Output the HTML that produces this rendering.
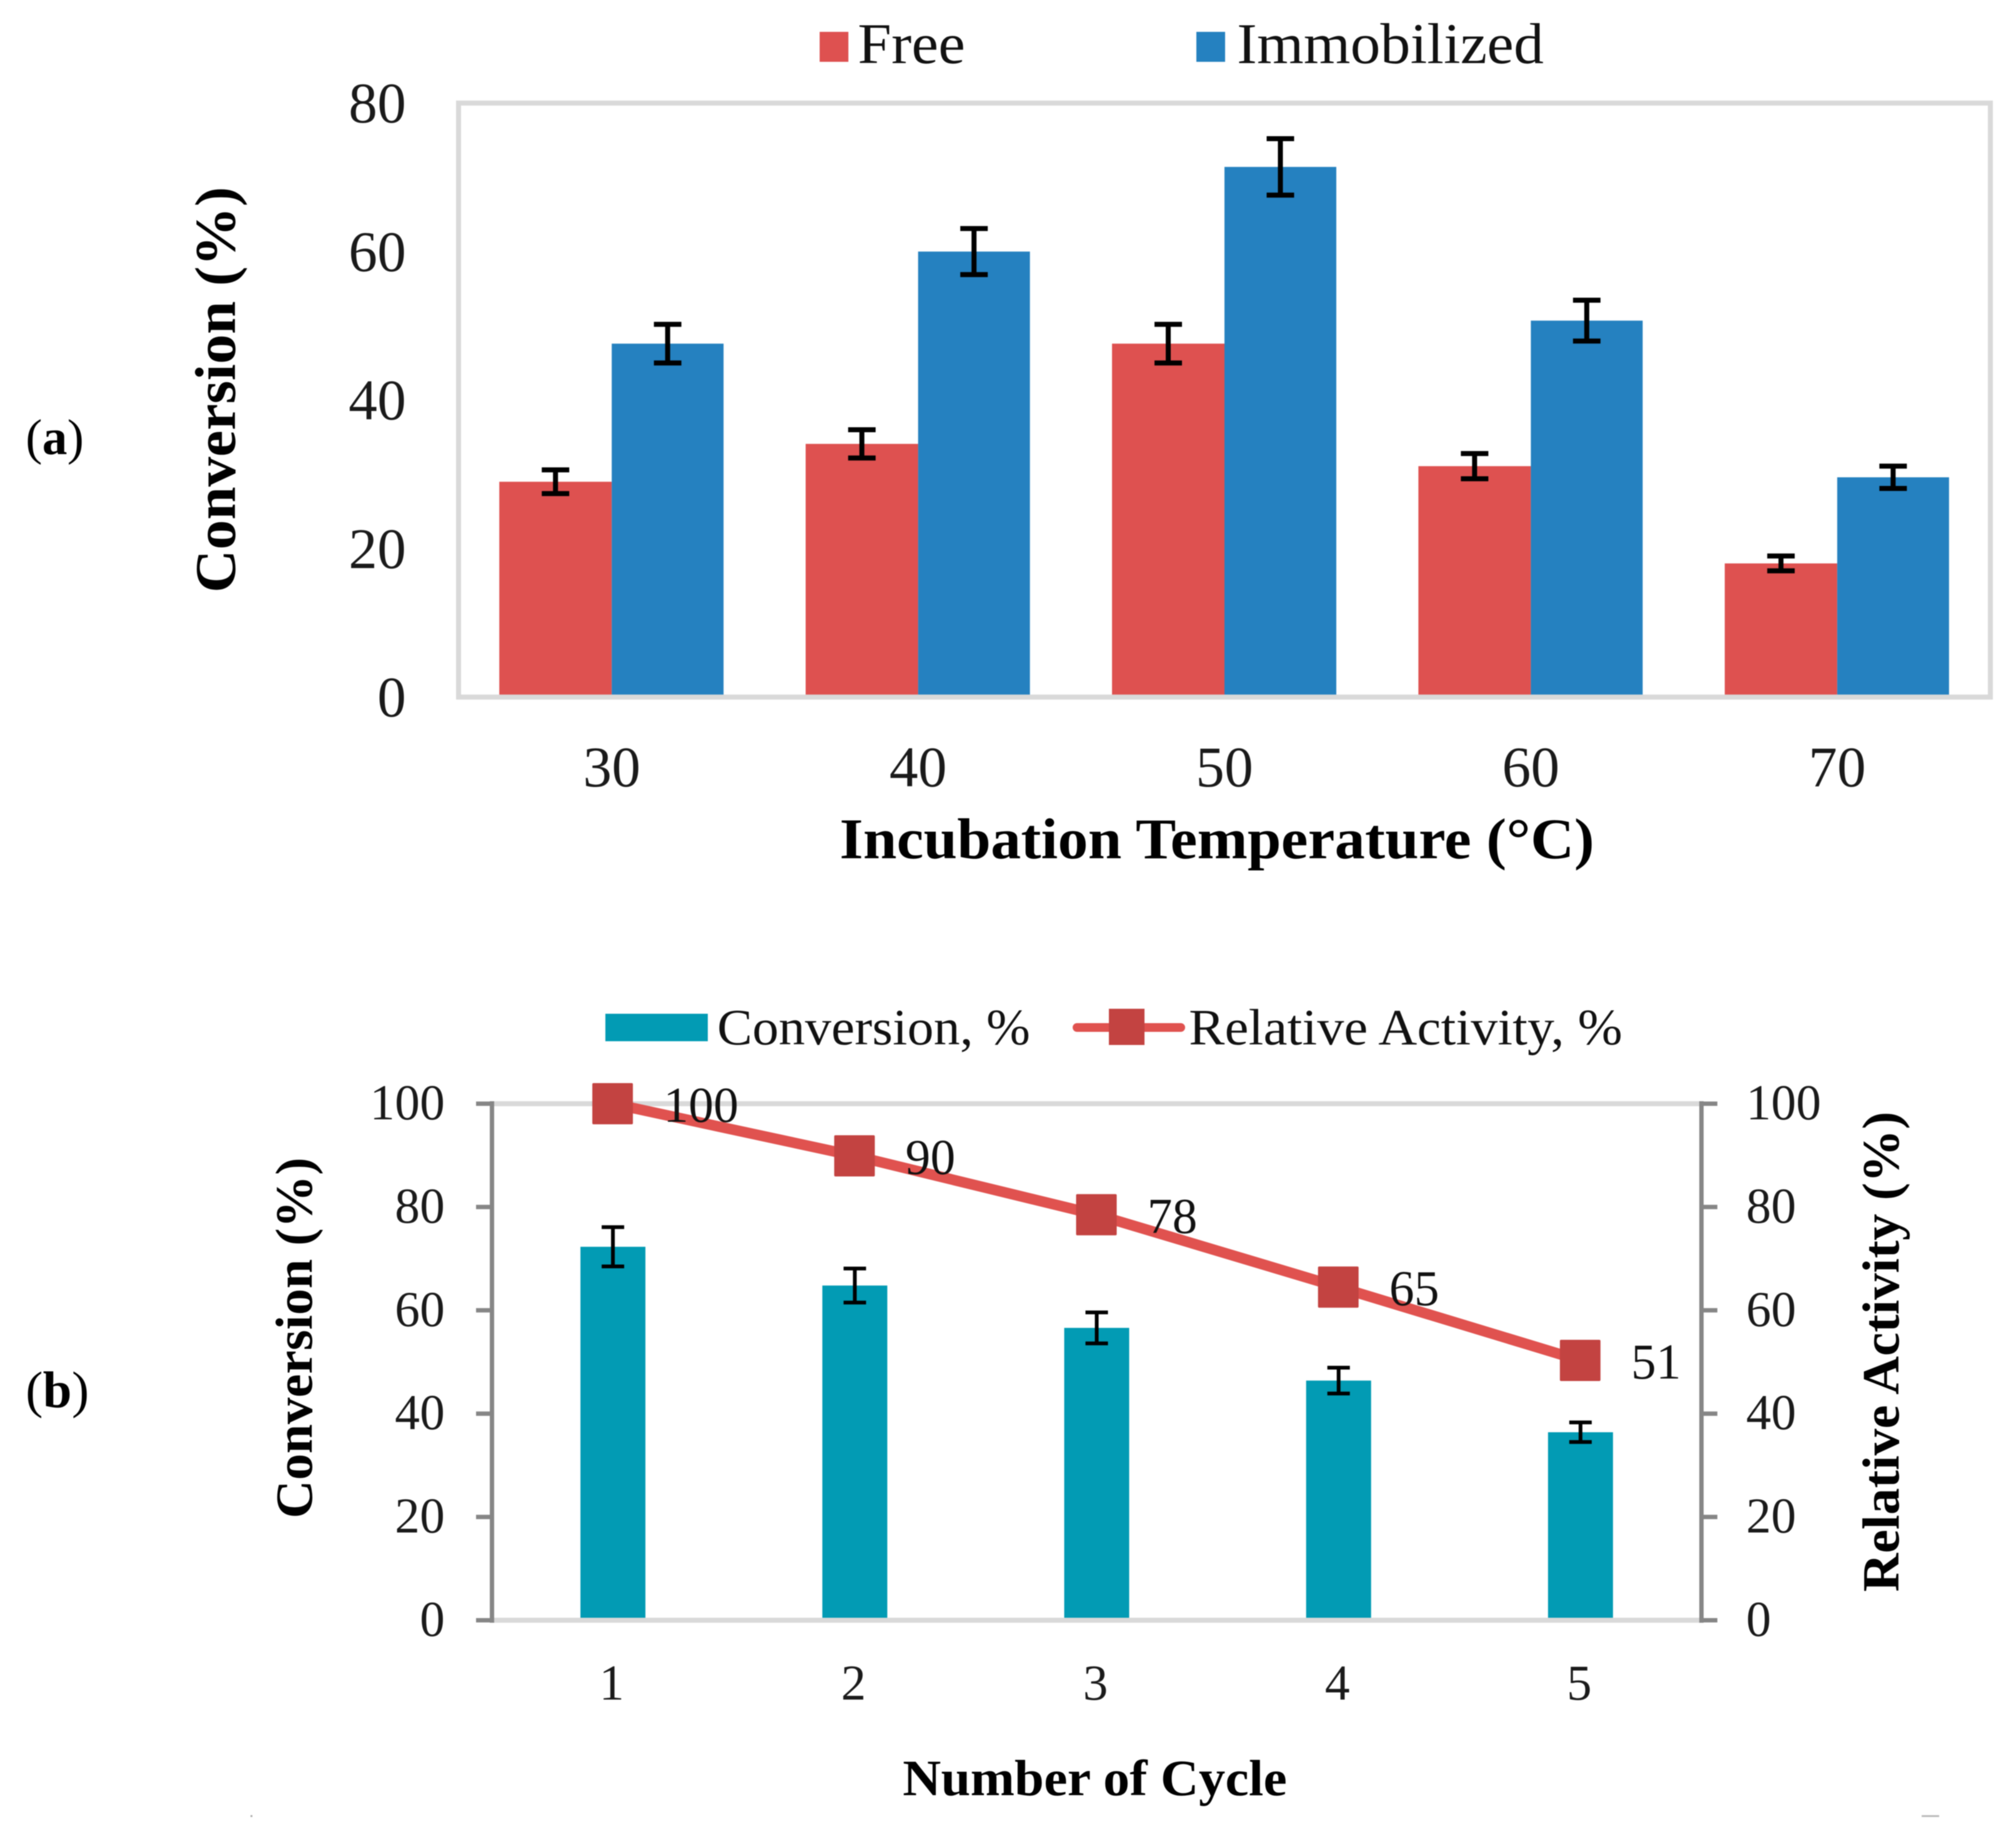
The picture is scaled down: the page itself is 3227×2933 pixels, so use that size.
<!DOCTYPE html>
<html lang="en">
<head>
<meta charset="utf-8">
<title>Conversion and relative activity charts</title>
<style>
  html, body { margin: 0; padding: 0; background: #ffffff; }
  svg { display: block; font-family: "Liberation Serif", serif; filter: blur(0.8px); }
</style>
</head>
<body>
<svg id="figure" xmlns="http://www.w3.org/2000/svg" width="3227" height="2933" viewBox="0 0 3227 2933">
  <rect x="0" y="0" width="3227" height="2933" fill="#ffffff"/>

  <!-- Panel labels -->
  <text x="41" y="727" font-size="80" fill="#000">(<tspan font-weight="bold">a</tspan>)</text>
  <text x="41" y="2253" font-size="83" fill="#000">(<tspan font-weight="bold">b</tspan>)</text>

  <!-- Chart A legend -->
  <rect x="1312" y="51" width="46" height="48" fill="#DE5150"/>
  <text x="1373" y="101" font-size="92" fill="#111" textLength="172" lengthAdjust="spacingAndGlyphs">Free</text>
  <rect x="1915" y="51" width="46" height="48" fill="#2581C0"/>
  <text x="1980" y="101" font-size="92" fill="#111" textLength="491" lengthAdjust="spacingAndGlyphs">Immobilized</text>

  <!-- Chart A titles -->
  <text transform="translate(376 624) rotate(-90)" text-anchor="middle" font-size="92" font-weight="bold" fill="#000" textLength="650" lengthAdjust="spacingAndGlyphs">Conversion (%)</text>
  <text x="1344" y="1374" font-size="92" font-weight="bold" fill="#000" textLength="1208" lengthAdjust="spacingAndGlyphs">Incubation Temperature (°C)</text>

  <!-- Chart B legend -->
  <rect x="969" y="1623" width="164" height="44" fill="#029BB4"/>
  <text x="1148" y="1672" font-size="82" fill="#111" textLength="501" lengthAdjust="spacingAndGlyphs">Conversion, %</text>
  <line x1="1724" y1="1645" x2="1890" y2="1645" stroke="#E0524F" stroke-width="14" stroke-linecap="round"/>
  <rect x="1775" y="1615" width="57" height="58" fill="#C34341"/>
  <text x="1903" y="1672" font-size="82" fill="#111" textLength="694" lengthAdjust="spacingAndGlyphs">Relative Activity, %</text>

  <!-- Chart B titles -->
  <text transform="translate(499 2142) rotate(-90)" text-anchor="middle" font-size="84" font-weight="bold" fill="#000" textLength="578" lengthAdjust="spacingAndGlyphs">Conversion (%)</text>
  <text transform="translate(3039 2164) rotate(-90)" text-anchor="middle" font-size="84" font-weight="bold" fill="#000" textLength="769" lengthAdjust="spacingAndGlyphs">Relative Activity (%)</text>
  <text x="1445" y="2874" font-size="82" font-weight="bold" fill="#000" textLength="615" lengthAdjust="spacingAndGlyphs">Number of Cycle</text>

  <!-- Scan specks -->
  <rect x="401" y="2906" width="3" height="3" fill="#aaaaaa"/>
  <rect x="3076" y="2906" width="28" height="3" fill="#bbbbbb"/>

  <g id="chart-a"></g>
  <g id="chart-b"></g>
</svg>

<script>
// ---------- Chart A data ----------
const tempCategories = ['30', '40', '50', '60', '70'];
const freeValues = [29.0, 34.1, 47.6, 31.1, 18.0];
const freeErrors = [1.6, 1.9, 2.6, 1.7, 1.0];
const immobilizedValues = [47.6, 60.0, 71.4, 50.7, 29.6];
const immobilizedErrors = [2.6, 3.1, 3.8, 2.75, 1.5];
const tempTicks = [0, 20, 40, 60, 80];

// ---------- Chart B data ----------
const cycleCategories = ['1', '2', '3', '4', '5'];
const conversionValues = [72.3, 64.8, 56.6, 46.4, 36.4];
const conversionErrors = [3.8, 3.3, 3.0, 2.5, 1.9];
const activityValues = [100, 89.9, 78.5, 64.5, 50.3];
const activityLabels = ['100', '90', '78', '65', '51'];
const cycleTicks = [0, 20, 40, 60, 80, 100];

const SVG_NS = 'http://www.w3.org/2000/svg';
function make(tag, parent, attrs, text) {
  const el = document.createElementNS(SVG_NS, tag);
  for (const k in attrs) el.setAttribute(k, attrs[k]);
  if (text !== undefined) el.textContent = text;
  parent.appendChild(el);
  return el;
}

// ---------- Chart A axes ----------
const aLeft = 734, aRight = 3186, aTop = 165, aBottom = 1116, aMax = 80;
const aBand = (aRight - aLeft) / tempCategories.length;
function aX(i) { return aLeft + aBand * (i + 0.5); }
function aY(v) { return aBottom - (v / aMax) * (aBottom - aTop); }
const aBarFreeW = 180, aBarImmW = 179;

const gA = document.getElementById('chart-a');

tempCategories.forEach(function (cat, i) {
  const fb = make('rect', gA, { x: aX(i) - aBarFreeW, y: aY(freeValues[i]), width: aBarFreeW, height: aBottom - aY(freeValues[i]), fill: '#DE5150' });
  
  
  const ib = make('rect', gA, { x: aX(i), y: aY(immobilizedValues[i]), width: aBarImmW, height: aBottom - aY(immobilizedValues[i]), fill: '#2581C0' });
  
  
});

const frame = make('rect', gA, { x: aLeft, y: aTop, width: aRight - aLeft, height: aBottom - aTop, fill: 'none', stroke: '#D9D9D9', 'stroke-width': 8 });



function errorBar(parent, cx, yHigh, yLow, capHalf, sw) {
  const g = make('g', parent, { stroke: '#000', 'stroke-width': sw, fill: 'none' });
  make('line', g, { x1: cx, y1: yHigh, x2: cx, y2: yLow });
  make('line', g, { x1: cx - capHalf, y1: yHigh, x2: cx + capHalf, y2: yHigh });
  make('line', g, { x1: cx - capHalf, y1: yLow, x2: cx + capHalf, y2: yLow });
  return g;
}

tempCategories.forEach(function (cat, i) {
  const e1 = errorBar(gA, aX(i) - aBarFreeW / 2, aY(freeValues[i] + freeErrors[i]), aY(freeValues[i] - freeErrors[i]), 22, 8);
  
  
  const e2 = errorBar(gA, aX(i) + aBarImmW / 2, aY(immobilizedValues[i] + immobilizedErrors[i]), aY(immobilizedValues[i] - immobilizedErrors[i]), 22, 8);
  
  
  const lab = make('text', gA, { x: aX(i), y: 1259, 'text-anchor': 'middle', 'font-size': 92, fill: '#1a1a1a' }, cat);
  
  
});

tempTicks.forEach(function (t) {
  const lab = make('text', gA, { x: 650, y: aY(t) + 31, 'text-anchor': 'end', 'font-size': 92, fill: '#1a1a1a' }, String(t));
  
  
});

// ---------- Chart B axes ----------
const bLeft = 787.5, bRight = 2723.5, bTop = 1767, bBottom = 2594, bMax = 100;
const bBand = (bRight - bLeft) / cycleCategories.length;
function bX(i) { return bLeft + bBand * (i + 0.5); }
function bY(v) { return bBottom - (v / bMax) * (bBottom - bTop); }
const bBarW = 104;

const gB = document.getElementById('chart-b');

cycleCategories.forEach(function (cat, i) {
  const b = make('rect', gB, { x: bX(i) - bBarW / 2, y: bY(conversionValues[i]), width: bBarW, height: bBottom - bY(conversionValues[i]), fill: '#029BB4' });
  
  
});

const topLine = make('line', gB, { x1: bLeft, y1: bTop, x2: bRight, y2: bTop, stroke: '#D9D9D9', 'stroke-width': 8 });


const baseLine = make('line', gB, { x1: bLeft, y1: bBottom, x2: bRight, y2: bBottom, stroke: '#D9D9D9', 'stroke-width': 8 });


const leftAxis = make('line', gB, { x1: bLeft, y1: bTop - 4, x2: bLeft, y2: bBottom + 4, stroke: '#868686', 'stroke-width': 7 });


const rightAxis = make('line', gB, { x1: bRight, y1: bTop - 4, x2: bRight, y2: bBottom + 4, stroke: '#868686', 'stroke-width': 7 });



cycleTicks.forEach(function (t) {
  const lt = make('line', gB, { x1: 762, y1: bY(t), x2: bLeft, y2: bY(t), stroke: '#868686', 'stroke-width': 7 });
  
  
  const rt = make('line', gB, { x1: bRight, y1: bY(t), x2: 2749, y2: bY(t), stroke: '#868686', 'stroke-width': 7 });
  
  
  const ll = make('text', gB, { x: 712, y: bY(t) + 25, 'text-anchor': 'end', 'font-size': 80, fill: '#1a1a1a' }, String(t));
  
  
  const rl = make('text', gB, { x: 2795, y: bY(t) + 25, 'font-size': 80, fill: '#1a1a1a' }, String(t));
  
  
});

cycleCategories.forEach(function (cat, i) {
  const e = errorBar(gB, bX(i), bY(conversionValues[i] + conversionErrors[i]), bY(conversionValues[i] - conversionErrors[i]), 18, 6);
  
  
  const lab = make('text', gB, { x: bX(i) - 2, y: 2721, 'text-anchor': 'middle', 'font-size': 80, fill: '#1a1a1a' }, cat);
  
  
});

const linePoints = activityValues.map(function (v, i) { return bX(i) + ',' + bY(v); }).join(' ');
const activityLine = make('polyline', gB, { points: linePoints, fill: 'none', stroke: '#E0524F', 'stroke-width': 17, 'stroke-linejoin': 'round' });



activityValues.forEach(function (v, i) {
  const m = make('rect', gB, { x: bX(i) - 33, y: bY(v) - 33, width: 65, height: 66, fill: '#C34341', rx: 2 });
  
  
  const lab = make('text', gB, { x: bX(i) + 81, y: bY(v) + 29, 'font-size': 80, fill: '#111' }, activityLabels[i]);
  
  
});
</script>
</body>
</html>
